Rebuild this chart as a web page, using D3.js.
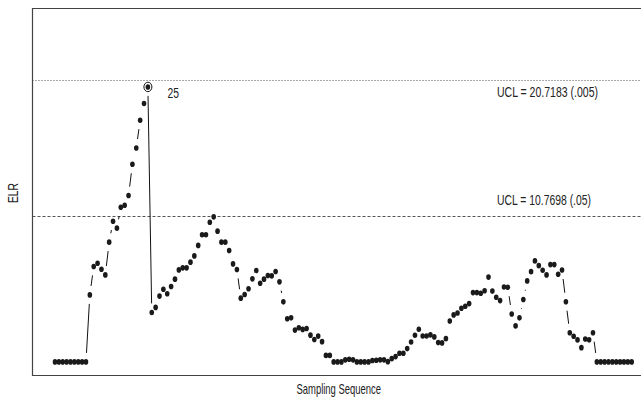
<!DOCTYPE html>
<html>
<head>
<meta charset="utf-8">
<script src="https://cdn.jsdelivr.net/npm/d3@7"></script>
<style>
  body { margin: 0; background: #fff; }
  svg { display: block; font-family: "Liberation Sans", Arial, sans-serif; }
</style>
</head>
<body>
<div id="chart"></div>
<script>
// ELR statistic per sample (150 samples)
var elr = [
  0, 0, 0, 0, 0, 0, 0, 0, 0, 4.93,
  7.02, 7.26, 6.82, 6.40, 8.81, 10.35, 9.84, 11.38, 11.53, 12.24,
  14.54, 15.74, 17.78, 19.01, 20.23, 3.64, 4.01, 4.84, 5.35, 5.01,
  5.55, 6.09, 6.77, 6.92, 6.92, 7.34, 7.80, 8.57, 9.35, 9.35,
  10.28, 10.67, 9.62, 8.81, 8.81, 8.20, 7.21, 6.80, 4.69, 4.96,
  5.38, 6.11, 6.73, 5.79, 6.09, 6.36, 6.33, 6.65, 5.89, 4.42,
  3.18, 3.24, 2.34, 2.51, 2.39, 2.46, 1.97, 1.65, 1.90, 1.49,
  0.48, 0.48, 0, 0, 0, 0.15, 0.20, 0.15, 0, 0,
  0, 0, 0.10, 0.12, 0.15, 0.15, 0.02, 0.24, 0.39, 0.64,
  0.64, 0.98, 1.47, 1.96, 2.40, 1.91, 1.91, 1.99, 1.84, 1.42,
  1.40, 1.71, 3.01, 3.46, 3.60, 3.95, 4.10, 4.29, 5.10, 5.10,
  5.05, 5.24, 6.24, 5.21, 4.76, 4.51, 5.51, 5.49, 3.53, 2.65,
  3.24, 4.59, 5.96, 6.64, 7.43, 7.08, 6.74, 6.40, 7.16, 7.16,
  6.45, 6.76, 4.43, 2.15, 1.89, 1.62, 1.05, 1.69, 1.63, 2.15,
  0, 0, 0, 0, 0, 0, 0, 0, 0, 0
]
var sampleIds = d3.range(1, elr.length + 1)

// control limits
var uclValues = [20.7183, 10.7698]
var uclLabels = ['UCL = 20.7183 (.005)', 'UCL = 10.7698 (.05)']
var uclDash = ['1,2', '3,2']

// flagged sample
var signalIds = [25]

var width = 641
var height = 402
var plotLeft = 32.5, plotTop = 8.5, plotBottom = 375.5

var x = d3.scaleLinear().domain([1, 150]).range([55, 631.7])
var y = d3.scaleLinear().domain([-1.0, 26.0]).range([plotBottom, plotTop])

var svg = d3.select('#chart')
    .append('svg')
    .attr('width', width)
    .attr('height', height)

// control limit lines
svg.selectAll('.ucl')
    .data(uclValues)
    .enter()
    .append('line')
    .attr('class', 'ucl')
    .attr('x1', plotLeft)
    .attr('x2', width)
    .attr('y1', function (d) { return Math.round(y(d)) + 0.5 })
    .attr('y2', function (d) { return Math.round(y(d)) + 0.5 })
    .attr('stroke', '#555')
    .attr('stroke-width', 1)
    .attr('stroke-dasharray', function (d, i) { return uclDash[i] })

// labels: narrow font in the original, so squeeze to its width
var uclWidths = [101, 94]
svg.selectAll('.ucllabel')
    .data(uclValues)
    .enter()
    .append('text')
    .attr('class', 'ucllabel')
    .attr('x', 497)
    .attr('y', function (d, i) { return i == 0 ? y(d) + 17 : y(d) - 10.5 })
    .attr('font-size', 14.5)
    .attr('fill', '#222')
    .attr('textLength', function (d, i) { return uclWidths[i] })
    .attr('lengthAdjust', 'spacingAndGlyphs')
    .text(function (d, i) { return uclLabels[i] })

// connecting segments with gaps around each point (like type = "b")
var gap = 9
var segs = []
for (var i = 0; i < elr.length - 1; i++) {
    var x0 = x(sampleIds[i]), y0 = y(elr[i])
    var x1 = x(sampleIds[i + 1]), y1 = y(elr[i + 1])
    var dist = Math.hypot(x1 - x0, y1 - y0)
    if (dist > 2 * gap) {
        var ux = (x1 - x0) / dist, uy = (y1 - y0) / dist
        segs.push([x0 + ux * gap, y0 + uy * gap, x1 - ux * gap, y1 - uy * gap])
    }
}
svg.selectAll('.seg')
    .data(segs)
    .enter()
    .append('line')
    .attr('class', 'seg')
    .attr('x1', function (d) { return d[0] })
    .attr('y1', function (d) { return d[1] })
    .attr('x2', function (d) { return d[2] })
    .attr('y2', function (d) { return d[3] })
    .attr('stroke', '#111')
    .attr('stroke-width', 1)

// points
svg.selectAll('.pt')
    .data(elr)
    .enter()
    .append('ellipse')
    .attr('class', 'pt')
    .attr('cx', function (d, i) { return x(sampleIds[i]) })
    .attr('cy', function (d) { return y(d) })
    .attr('rx', 2.3)
    .attr('ry', 2.8)
    .attr('fill', '#1a1a1a')

// signal marker and its label
svg.selectAll('.signal')
    .data(signalIds)
    .enter()
    .append('ellipse')
    .attr('class', 'signal')
    .attr('cx', function (d) { return x(d) })
    .attr('cy', function (d) { return y(elr[d - 1]) })
    .attr('rx', 4)
    .attr('ry', 4.7)
    .attr('fill', 'none')
    .attr('stroke', '#111')
    .attr('stroke-width', 1)

svg.selectAll('.signallabel')
    .data(signalIds)
    .enter()
    .append('text')
    .attr('class', 'signallabel')
    .attr('x', function (d) { return x(d) + 19.5 })
    .attr('y', function (d) { return y(elr[d - 1]) + 11 })
    .attr('font-size', 14.5)
    .attr('fill', '#222')
    .attr('textLength', 11.5)
    .attr('lengthAdjust', 'spacingAndGlyphs')
    .text(function (d) { return d })

// frame (right edge runs off the page)
svg.append('path')
    .attr('d', 'M' + (width + 5) + ',' + plotTop + 'H' + plotLeft + 'V' + plotBottom + 'H' + (width + 5))
    .attr('fill', 'none')
    .attr('stroke', '#444')
    .attr('stroke-width', 1.2)

// axis titles
svg.append('text')
    .attr('x', 296.5)
    .attr('y', 393.5)
    .attr('font-size', 14.5)
    .attr('fill', '#222')
    .attr('textLength', 84.5)
    .attr('lengthAdjust', 'spacingAndGlyphs')
    .text('Sampling Sequence')

svg.append('text')
    .attr('transform', 'translate(18,203) rotate(-90)')
    .attr('font-size', 14.5)
    .attr('fill', '#222')
    .attr('textLength', 20)
    .attr('lengthAdjust', 'spacingAndGlyphs')
    .text('ELR')
</script>
</body>
</html>
